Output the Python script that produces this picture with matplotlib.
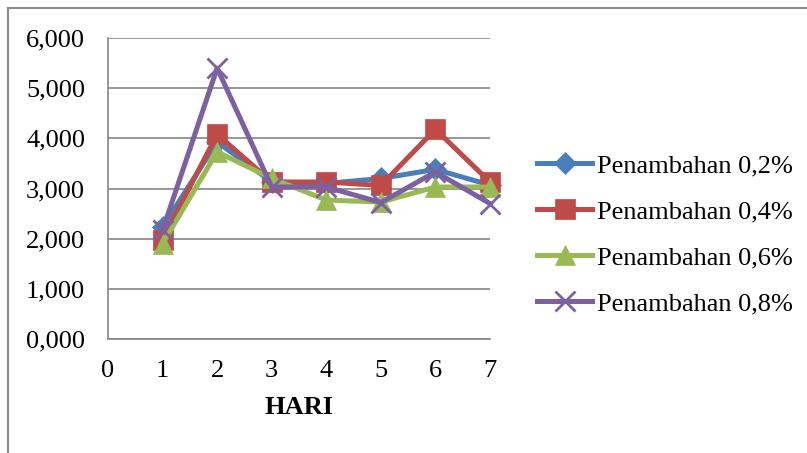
import numpy as np
import matplotlib.pyplot as plt
from matplotlib.lines import Line2D

hari = [1, 2, 3, 4, 5, 6, 7]
p02 = [2230, 3930, 3130, 3100, 3200, 3380, 3070]
p04 = [1980, 4080, 3130, 3130, 3060, 4180, 3130]
p06 = [1900, 3730, 3200, 2770, 2730, 3030, 3030]
p08 = [2170, 5400, 3030, 3030, 2720, 3330, 2700]
labels = ['Penambahan 0,2%', 'Penambahan 0,4%', 'Penambahan 0,6%', 'Penambahan 0,8%']
yticks = [0, 1000, 2000, 3000, 4000, 5000, 6000]

plt.rcParams['font.family'] = ['Liberation Serif', 'DejaVu Serif']

fig = plt.figure(figsize=(8.07, 4.53), dpi=100)
ax = fig.add_axes([108/807, 1-339/453, (490-108)/807, (339-38)/453])

series = [p02, p04, p06, p08]
colors = ['#4A7EBB', '#BE4B48', '#98B954', '#7D60A0']
markers = ['D', 's', '^', 'x']
msizes = [11, 14, 14, 14]
for s, c, mk, ms, lb in zip(series, colors, markers, msizes, labels):
    ax.plot(hari, s, color=c, marker=mk, markersize=ms, linewidth=3.6,
            markeredgewidth=2 if mk == 'x' else 0.5, markeredgecolor=c,
            label=lb, clip_on=False)

ax.set_xlim(0, 7)
ax.set_ylim(0, 6000)
ax.set_xticks(range(0, 8))
ax.set_yticks(yticks)
ax.set_yticklabels(['{},000'.format(v // 1000) for v in yticks])
ax.grid(axis='y', color='#868686', linewidth=1.2)
ax.set_axisbelow(True)
for sp in ['top', 'right']:
    ax.spines[sp].set_visible(False)
for sp in ['left', 'bottom']:
    ax.spines[sp].set_color('#868686')
    ax.spines[sp].set_linewidth(1.2)
ax.tick_params(length=0, labelsize=19)
ax.tick_params(axis='x', pad=15)
ax.tick_params(axis='y', pad=16.5)
ax.set_xlabel('HARI', fontsize=19, fontweight='bold', labelpad=10)

ax.legend(loc='center left', bbox_to_anchor=(1.096, 0.347), frameon=False,
          fontsize=19, handlelength=2.08, handletextpad=0.2, labelspacing=0.86,
          borderaxespad=0)

# outer chart border
fig.add_artist(Line2D([8/807, 8/807], [0, 1-8/453], color='#8c8c8c', linewidth=1.5))
fig.add_artist(Line2D([8/807, 1], [1-8/453, 1-8/453], color='#8c8c8c', linewidth=1.5))

fig.savefig('out.png', dpi=100)
